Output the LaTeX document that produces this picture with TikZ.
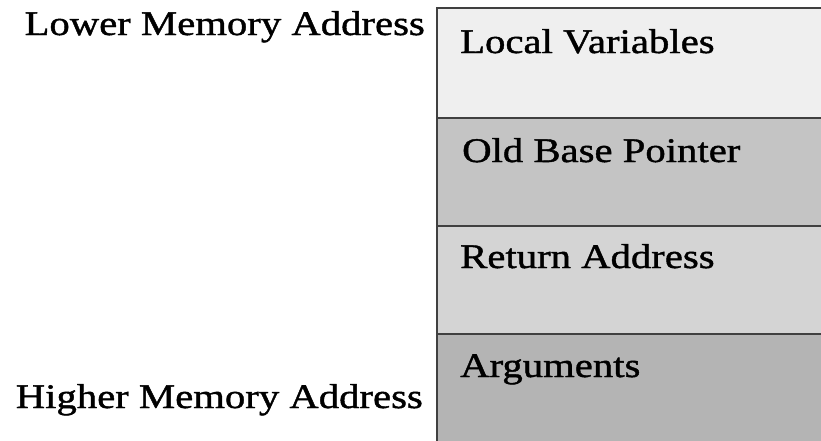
\documentclass[tikz,border=0pt]{standalone}
\usepackage{fontspec}
\setmainfont{Liberation Serif}[FakeStretch=1.18,FakeBold=1.2]
\begin{document}
\begin{tikzpicture}[x=1pt,y=-1pt,
  frame/.style={draw=black!75,line width=2pt,rectangle,anchor=north west,
    minimum width=400pt,minimum height=#1,inner sep=0pt,outer sep=0pt},
  lbl/.style={font=\fontsize{34.5}{40}\selectfont,inner sep=0pt,anchor=base west},
  side/.style={font=\fontsize{34.5}{40}\selectfont,inner sep=0pt,anchor=base east}]
\useasboundingbox (0,0) rectangle (821,440);
\clip (0,0) rectangle (821,440);
\fill[white] (0,0) rectangle (821,440);
% stack frame slots, top (low address) to bottom (high address)
\node[frame=110pt,fill={rgb,255:red,239;green,239;blue,239}] (r1) at (437,8) {};
\node[frame=108pt,fill={rgb,255:red,196;green,196;blue,196}] (r2) at (437,118) {};
\node[frame=108pt,fill={rgb,255:red,212;green,212;blue,212}] (r3) at (437,226) {};
\node[frame=115pt,fill={rgb,255:red,180;green,180;blue,180}] (r4) at (437,334) {};
% slot contents
\node[lbl] (t1) at (460,53) {Local Variables};
\node[lbl] (t2) at (462,162) {Old Base Pointer};
\node[lbl] (t3) at (460,268) {Return Address};
\node[lbl] (t4) at (460,377) {Arguments};
% address direction labels
\node[side] (lo) at (425,35) {Lower Memory Address};
\node[side] (hi) at (423,408) {Higher Memory Address};
\end{tikzpicture}
\end{document}
